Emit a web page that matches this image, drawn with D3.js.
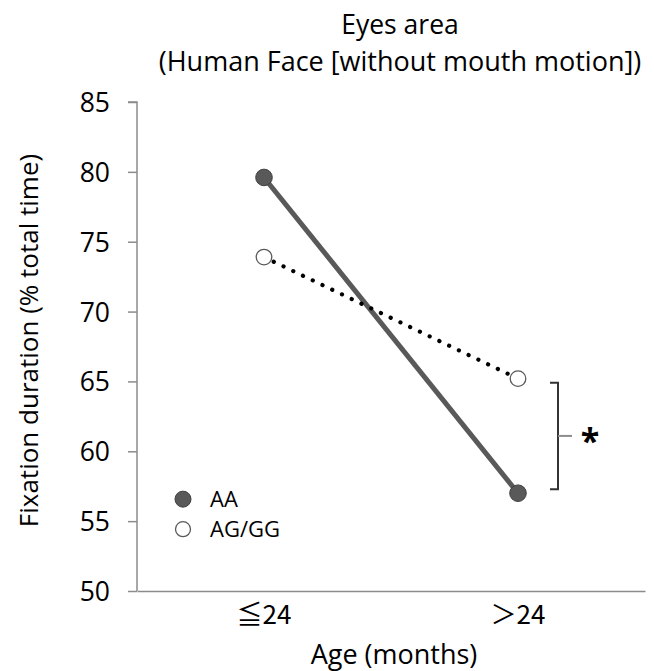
<!DOCTYPE html>
<html>
<head>
<meta charset="utf-8">
<script src="https://cdn.jsdelivr.net/npm/d3@7"></script>
<style>
  body { margin: 0; background: #fff; }
  svg text { font-family: "Open Sans", sans-serif; fill: #000; }
</style>
</head>
<body>
<div id="chart"></div>
<script>
// values
const ageGroups = ["≦24", "＞24"];
const seriesNames = ["AA", "AG/GG"];
const aaValues = [79.6, 57.0];
const aggValues = [73.9, 65.2];
const yTicks = [50, 55, 60, 65, 70, 75, 80, 85];

const width = 654, height = 671;
const margin = { top: 102, right: 9, bottom: 80, left: 137 };
const innerW = width - margin.left - margin.right;
const innerH = height - margin.top - margin.bottom;

const svg = d3.select("#chart").append("svg")
  .attr("width", width)
  .attr("height", height);

const g = svg.append("g")
  .attr("transform", "translate(" + margin.left + "," + margin.top + ")");

const x = d3.scaleBand().domain(ageGroups).range([0, innerW]);
const y = d3.scaleLinear().domain([50, 85]).range([innerH, 0]);
const cx = d => x(d) + x.bandwidth() / 2;

// title
svg.append("text")
  .attr("x", 400).attr("y", 34)
  .attr("text-anchor", "middle")
  .style("font-size", "26.5px")
  .text("Eyes area");
svg.append("text")
  .attr("x", 400).attr("y", 71)
  .attr("text-anchor", "middle")
  .style("font-size", "27px")
  .text("(Human Face [without mouth motion])");

// y axis
const yAxis = g.append("g")
  .call(d3.axisLeft(y).tickValues(yTicks).tickSize(9).tickPadding(18));
yAxis.select(".domain").attr("stroke", "#8c8c8c").attr("stroke-width", 1.5)
  .attr("d", "M0," + innerH + "V0H-9");
yAxis.selectAll(".tick line").attr("stroke", "#8c8c8c").attr("stroke-width", 1.5);
yAxis.selectAll(".tick text").style("font-size", "26.5px").attr("dy", "0.36em")
  .style("font-family", "'Open Sans', sans-serif").attr("fill", "#000");

// x axis
const xAxis = g.append("g")
  .attr("transform", "translate(0," + innerH + ")")
  .call(d3.axisBottom(x).tickSize(0).tickPadding(15));
xAxis.select(".domain").attr("stroke", "#8c8c8c").attr("stroke-width", 1.5);
xAxis.selectAll(".tick text").style("font-size", "26px").attr("dy", "0.71em")
  .style("font-family", "'Noto Sans CJK JP', 'Open Sans', sans-serif").attr("fill", "#000");

// axis titles
svg.append("text")
  .attr("x", 394).attr("y", 664)
  .attr("text-anchor", "middle")
  .style("font-size", "27px")
  .text("Age (months)");
svg.append("text")
  .attr("transform", "translate(38," + (margin.top + innerH / 2 - 6) + ") rotate(-90)")
  .attr("text-anchor", "middle")
  .style("font-size", "26px")
  .text("Fixation duration (% total time)");

// lines
const line = d3.line()
  .x((d, i) => cx(ageGroups[i]))
  .y(d => y(d));

g.append("path")
  .datum(aaValues)
  .attr("d", line)
  .attr("fill", "none")
  .attr("stroke", "#595959")
  .attr("stroke-width", 5);

g.append("path")
  .datum(aggValues)
  .attr("d", line)
  .attr("fill", "none")
  .attr("stroke", "#000")
  .attr("stroke-width", 4.2)
  .attr("stroke-linecap", "round")
  .attr("stroke-dasharray", "0.1 10.7");

// points
g.selectAll(".aa-dot")
  .data(aaValues)
  .enter().append("circle")
  .attr("cx", (d, i) => cx(ageGroups[i]))
  .attr("cy", d => y(d))
  .attr("r", 8.3)
  .attr("fill", "#595959")
  .attr("stroke", "#404040")
  .attr("stroke-width", 1);

g.selectAll(".agg-dot")
  .data(aggValues)
  .enter().append("circle")
  .attr("cx", (d, i) => cx(ageGroups[i]))
  .attr("cy", d => y(d))
  .attr("r", 7.8)
  .attr("fill", "#fff")
  .attr("stroke", "#595959")
  .attr("stroke-width", 1.3);

// significance bracket between the two >24 values
const bx = cx(ageGroups[1]) + 40;
const yTop = y(aggValues[1]) + 4;
const yBot = y(aaValues[1]) - 4;
const yMid = (yTop + yBot) / 2;
g.append("path")
  .attr("d", "M" + (bx - 8) + "," + yTop + "H" + bx + "V" + yBot + "H" + (bx - 8))
  .attr("fill", "none")
  .attr("stroke", "#333")
  .attr("stroke-width", 2);
g.append("line")
  .attr("x1", bx).attr("x2", bx + 14)
  .attr("y1", yMid).attr("y2", yMid)
  .attr("stroke", "#8c8c8c")
  .attr("stroke-width", 2);
g.append("text")
  .attr("x", bx + 32).attr("y", yMid + 17)
  .attr("text-anchor", "middle")
  .style("font-size", "34px")
  .style("font-weight", "bold")
  .text("*");

// legend
const legend = g.append("g").attr("transform", "translate(46," + (y(55) - 22) + ")");
seriesNames.forEach((name, i) => {
  const row = legend.append("g").attr("transform", "translate(0," + (i * 30) + ")");
  row.append("circle")
    .attr("r", i === 0 ? 8 : 7.5)
    .attr("fill", i === 0 ? "#595959" : "#fff")
    .attr("stroke", i === 0 ? "#404040" : "#595959")
    .attr("stroke-width", i === 0 ? 1 : 1.3);
  row.append("text")
    .attr("x", 27).attr("y", 8)
    .style("font-size", "22px")
    .text(name);
});
</script>
</body>
</html>
